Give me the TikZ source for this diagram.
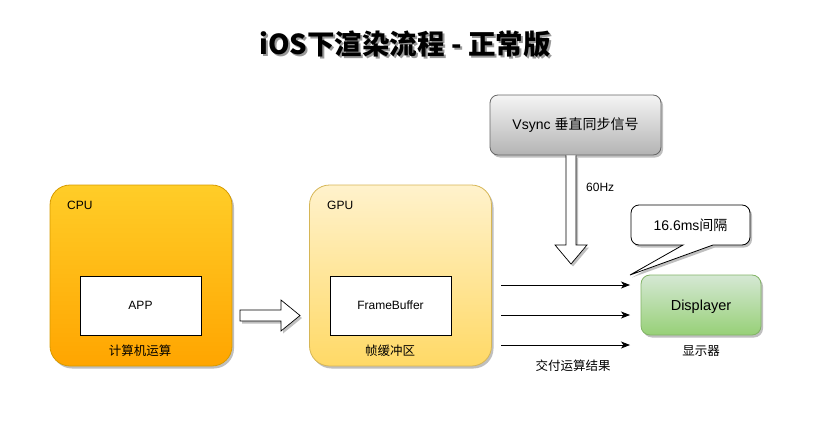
\documentclass[tikz,border=0pt]{standalone}
\usepackage{fontspec}
\setmainfont{Liberation Sans}
\newfontfamily\cjk{Noto Sans CJK SC}
\usetikzlibrary{shadows,arrows.meta}
\tikzset{
  shd/.style={drop shadow={shadow xshift=2pt,shadow yshift=-2.5pt,opacity=0.25,fill=black}},
  bigbox/.style={shd,rounded corners=20pt,minimum width=182pt,minimum height=181pt,inner sep=0pt,line width=0.8pt},
  inbox/.style={draw=black,fill=white,minimum width=121pt,minimum height=59pt,inner sep=0pt,line width=0.8pt,font=\fontsize{12}{14}\selectfont},
  lbl/.style={inner sep=0pt,font=\fontsize{12}{14}\selectfont},
  cjklbl/.style={inner sep=0pt,font=\cjk\fontsize{12.5}{14}\selectfont},
  hollow/.style={draw=black,fill=white,line width=0.7pt,shd},
  line/.style={draw=black,line width=0.8pt,-{Stealth[length=9pt,width=7pt,inset=2.5pt]}}
}
\newcommand{\titletext}{iOS下渲染流程 - 正常版}
\begin{document}
\begin{tikzpicture}[x=1pt,y=-1pt]
\useasboundingbox (0,0) rectangle (822,447);
% title with its shadow
\node[inner sep=0pt,font=\cjk\bfseries\fontsize{27.5}{30}\selectfont] (title) at (405,45) {\makebox[0pt][l]{\hspace{2pt}\raisebox{-2.5pt}{\textcolor{black!40}{\titletext}}}\titletext};
% CPU
\node[bigbox,draw={rgb,255:red,215;green,155;blue,0},top color={rgb,255:red,255;green,205;blue,40},bottom color={rgb,255:red,255;green,165;blue,0}] (cpu) at (141,275.5) {};
\node[lbl,anchor=west] (cpul) at (67,205) {CPU};
\node[inbox] (app) at (140.5,305.5) {APP};
\node[cjklbl] (cpub) at (140,351) {计算机运算};
% GPU
\node[bigbox,draw={rgb,255:red,214;green,182;blue,86},top color={rgb,255:red,255;green,242;blue,204},bottom color={rgb,255:red,255;green,217;blue,102}] (gpu) at (400.5,275.5) {};
\node[lbl,anchor=west] (gpul) at (327,205) {GPU};
\node[inbox] (fb) at (390.5,305.5) {FrameBuffer};
\node[cjklbl] (gpub) at (390,351) {帧缓冲区};
% hollow right arrow
\draw[hollow] (240,310) -- (281,310) -- (281,300) -- (300,315.5) -- (281,331) -- (281,321) -- (240,321) -- cycle;
% Vsync
\node[shd,draw={rgb,255:red,102;green,102;blue,102},top color={rgb,255:red,245;green,245;blue,245},bottom color={rgb,255:red,179;green,179;blue,179},rounded corners=8pt,minimum width=171pt,minimum height=60pt,inner sep=0pt,line width=0.8pt,font=\fontsize{14}{16}\selectfont] (vs) at (575.5,125) {Vsync {\cjk 垂直同步信号}};
% hollow down arrow
\draw[hollow] (vs.south -| 566,0) -- (566,245) -- (555,245) -- (571,264) -- (587,245) -- (576,245) -- (vs.south -| 576,0);
\node[inner sep=0pt,font=\fontsize{12}{14}\selectfont,anchor=west] (hz) at (586,187) {60Hz};
% Displayer
\node[shd,draw={rgb,255:red,130;green,179;blue,102},top color={rgb,255:red,213;green,232;blue,212},bottom color={rgb,255:red,151;green,208;blue,119},rounded corners=9pt,minimum width=120pt,minimum height=60pt,inner sep=0pt,line width=0.8pt] (disp) at (701,305) {};
\node[inner sep=0pt,font=\fontsize{14.5}{16}\selectfont] (displ) at (701,307) {Displayer};
\node[cjklbl] (dispb) at (701,351) {显示器};
% callout
\coordinate (tip) at (630,275);
\draw[shd,fill=white,draw=black,line width=0.8pt] (683,245) -- (tip) -- (713,245) [rounded corners=8pt] -- (750,245) -- (750,205) -- (631,205) -- (631,245) [sharp corners] -- cycle;
\node[inner sep=0pt,font=\fontsize{14}{16}\selectfont] (cl) at (690.5,225) {16.6ms{\cjk 间隔}};
% delivery arrows
\coordinate (a1) at (501,285); \coordinate (b1) at (630,285);
\coordinate (a2) at (501,315); \coordinate (b2) at (630,315);
\coordinate (a3) at (501,345); \coordinate (b3) at (630,345);
\draw[line] (a1) -- (b1);
\draw[line] (a2) -- (b2);
\draw[line] (a3) -- (b3);
\node[cjklbl] (res) at (573,366) {交付运算结果};
\end{tikzpicture}
\end{document}
